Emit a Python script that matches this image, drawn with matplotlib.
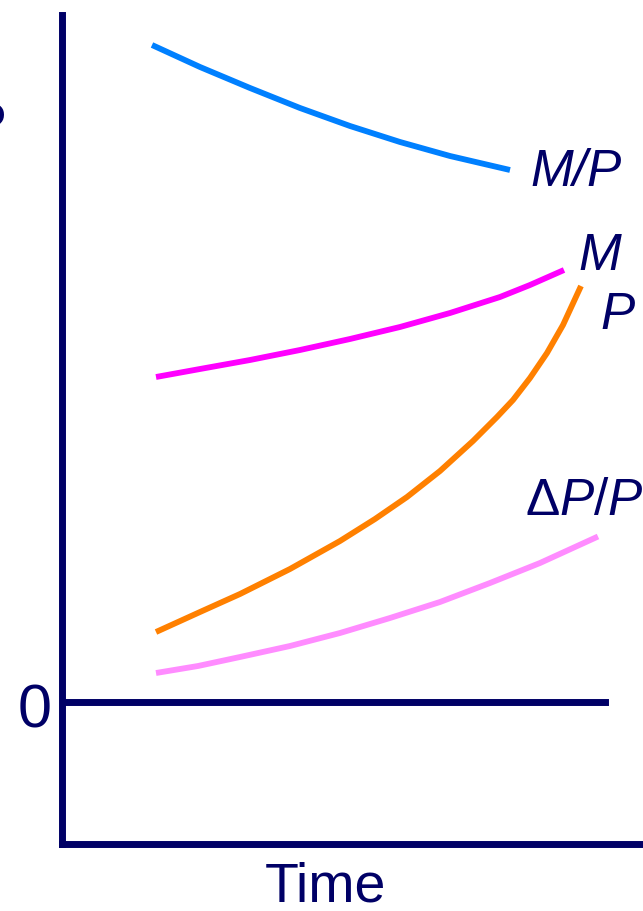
import matplotlib
matplotlib.use('Agg')
import matplotlib.pyplot as plt

# curves (time, level); zero line at level 0
t_mp = [0.90, 1.38, 1.88, 2.38, 2.88, 3.38, 3.88, 4.48]
y_mp = [6.57, 6.35, 6.14, 5.94, 5.76, 5.60, 5.46, 5.32]

t_m = [0.94, 1.38, 1.88, 2.38, 2.88, 3.38, 3.88, 4.38, 4.68, 5.02]
y_m = [3.25, 3.33, 3.42, 3.52, 3.63, 3.75, 3.89, 4.05, 4.17, 4.32]

t_p = [0.94, 1.38, 1.78, 2.28, 2.78, 3.13, 3.45, 3.78, 4.11, 4.35, 4.51, 4.68, 4.85, 5.01, 5.19]
y_p = [0.70, 0.90, 1.08, 1.33, 1.61, 1.83, 2.05, 2.31, 2.61, 2.85, 3.02, 3.24, 3.49, 3.77, 4.16]

t_dp = [0.94, 1.36, 1.78, 2.28, 2.78, 3.28, 3.78, 4.28, 4.78, 5.36]
y_dp = [0.29, 0.36, 0.45, 0.56, 0.69, 0.84, 1.00, 1.19, 1.39, 1.655]

navy = '#000066'

plt.rcParams['font.family'] = ['Liberation Sans', 'DejaVu Sans']
plt.rcParams['mathtext.fontset'] = 'custom'
plt.rcParams['mathtext.rm'] = 'Liberation Sans'
plt.rcParams['mathtext.it'] = 'Liberation Sans:italic'

fig = plt.figure(figsize=(6.43, 9.11), dpi=100)
ax = fig.add_axes([62 / 643, 67 / 911, 578 / 643, 829 / 911])
ax.set_xlim(0, 5.78)
ax.set_ylim(-1.42, 6.87)

for s in ['top', 'right']:
    ax.spines[s].set_visible(False)
for s in ['left', 'bottom']:
    ax.spines[s].set_linewidth(5)
    ax.spines[s].set_color(navy)
ax.set_xticks([])
ax.set_yticks([])

ax.axhline(0, xmax=543 / 578, color=navy, lw=5)

style = dict(lw=4.2, solid_capstyle='butt', solid_joinstyle='round')
ax.plot(t_mp, y_mp, color='#0080FF', **style)
ax.plot(t_m, y_m, color='#FF00FF', **style)
ax.plot(t_p, y_p, color='#FF8000', **style)
ax.plot(t_dp, y_dp, color='#FF8CFF', **style)

ax.text(4.68, 5.16, 'M/P', fontsize=37, style='italic', color=navy, va='baseline')
ax.text(5.16, 4.32, 'M', fontsize=37, style='italic', color=navy, va='baseline')
ax.text(5.38, 3.73, 'P', fontsize=37, style='italic', color=navy, va='baseline')
ax.text(4.63, 1.87, r'$\Delta P/P$', fontsize=37, color=navy, va='baseline')

ax.text(-0.10, -0.25, '0', fontsize=44, color=navy, ha='right', va='baseline')
ax.text(2.63, -2.00, 'Time', fontsize=40, color=navy, ha='center', va='baseline')

# label cut off at the left edge
fig.text(6 / 643, 1 - 143 / 911, 'P', fontsize=41, color=navy, ha='right', va='baseline')

fig.savefig('out.png', dpi=100)
